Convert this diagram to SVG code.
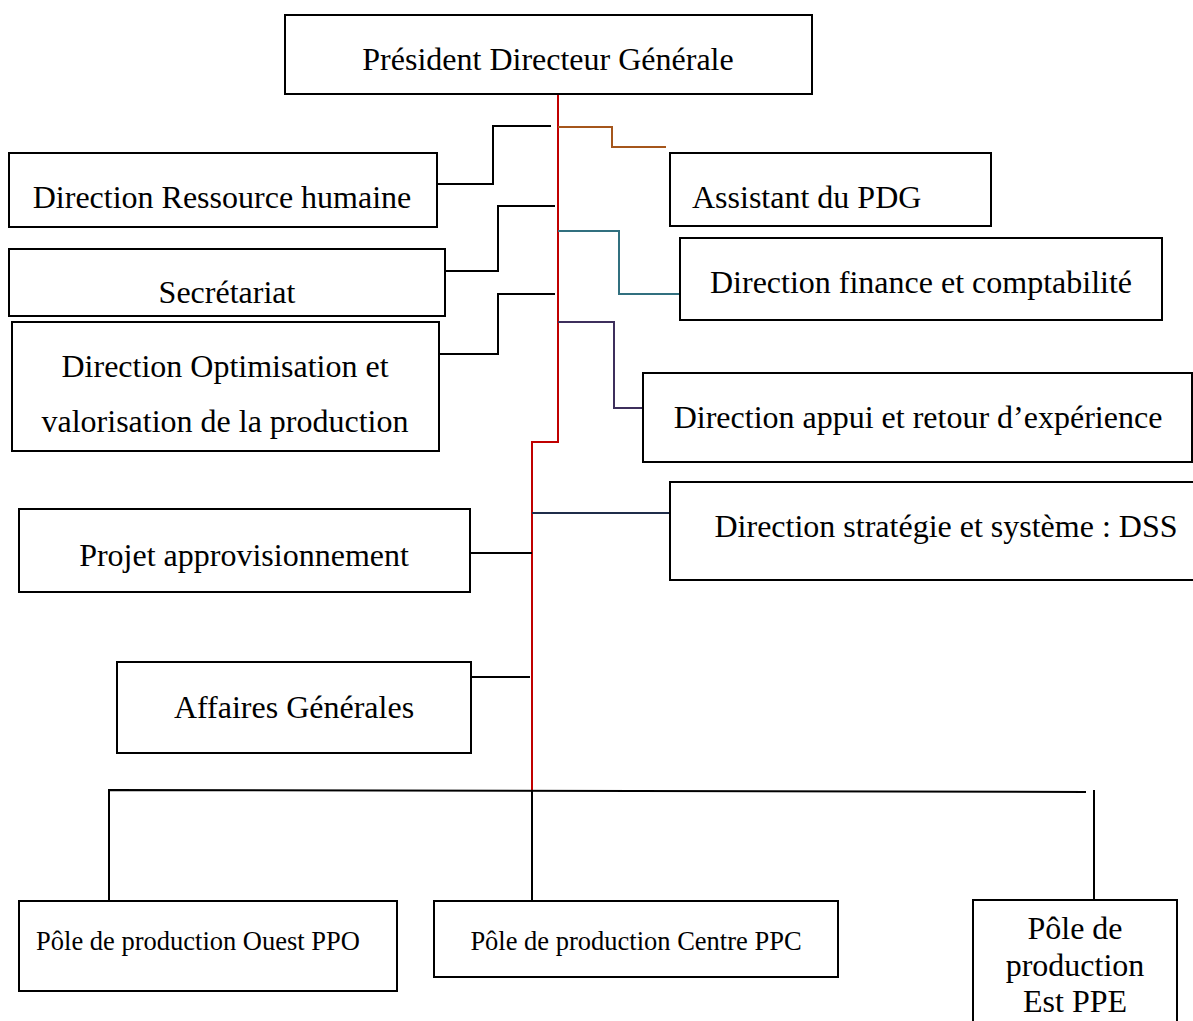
<svg xmlns="http://www.w3.org/2000/svg" width="1193" height="1021" viewBox="0 0 1193 1021">
<style>
.box{fill:#fff;stroke:#000;stroke-width:2}
.t{font-family:"Liberation Serif","Times New Roman",serif;font-size:32px;fill:#000}
.s{font-size:26.5px}
.c{fill:none;stroke-width:2}
.k{stroke:#000}
</style>
<rect width="1193" height="1021" fill="#fff"/>
<g id="connectors">
<path class="c" stroke="#c00000" d="M558 94V442H532V790"/>
<path class="c k" d="M551 126H493V184H437"/>
<path class="c" stroke="#a5561b" d="M558 127H612V147H666"/>
<path class="c k" d="M555 206H498V271H440"/>
<path class="c" stroke="#31707f" d="M558 231H619V294H680"/>
<path class="c k" d="M555 294H498V354H440"/>
<path class="c" stroke="#3d2f5c" d="M558 322H614V408H643"/>
<path class="c" stroke="#1f2d4a" d="M532 513H670"/>
<path class="c k" d="M532 553H470"/>
<path class="c k" d="M530 677H470"/>
<path class="c k" d="M109 900V790L1086 792"/>
<path class="c k" d="M532 790V900"/>
<path class="c k" d="M1094 790V905"/>
</g>
<g id="pdg"><rect class="box" x="285" y="15" width="527" height="79"/><text class="t" x="548" y="70" text-anchor="middle">Président Directeur Générale</text></g>
<g id="drh"><rect class="box" x="9" y="153" width="428" height="74"/><text class="t" x="222" y="208" text-anchor="middle">Direction Ressource humaine</text></g>
<g id="assistant"><rect class="box" x="670" y="153" width="321" height="73"/><text class="t" x="692" y="208">Assistant du PDG</text></g>
<g id="secretariat"><rect class="box" x="9" y="249" width="436" height="67"/><text class="t" x="227" y="303" text-anchor="middle">Secrétariat</text></g>
<g id="finance"><rect class="box" x="680" y="238" width="482" height="82"/><text class="t" x="921" y="293" text-anchor="middle">Direction finance et comptabilité</text></g>
<g id="optimisation"><rect class="box" x="12" y="322" width="427" height="129"/><text class="t" x="225" y="377" text-anchor="middle">Direction Optimisation et</text><text class="t" x="225" y="432" text-anchor="middle">valorisation de la production</text></g>
<g id="appui"><rect class="box" x="643" y="373" width="549" height="89"/><text class="t" x="918" y="428" text-anchor="middle">Direction appui et retour d’expérience</text></g>
<g id="dss"><rect class="box" x="670" y="482" width="540" height="98"/><text class="t" x="946" y="537" text-anchor="middle">Direction stratégie et système : DSS</text></g>
<g id="projet"><rect class="box" x="19" y="509" width="451" height="83"/><text class="t" x="244" y="566" text-anchor="middle">Projet approvisionnement</text></g>
<g id="affaires"><rect class="box" x="117" y="662" width="354" height="91"/><text class="t" x="294" y="718" text-anchor="middle">Affaires Générales</text></g>
<g id="ppo"><rect class="box" x="19" y="901" width="378" height="90"/><text class="t s" x="198" y="950" text-anchor="middle">Pôle de production Ouest PPO</text></g>
<g id="ppc"><rect class="box" x="434" y="901" width="404" height="76"/><text class="t s" x="636" y="950" text-anchor="middle">Pôle de production Centre PPC</text></g>
<g id="ppe"><rect class="box" x="973" y="900" width="204" height="140"/><text class="t" x="1075" y="939" text-anchor="middle">Pôle de</text><text class="t" x="1075" y="976" text-anchor="middle">production</text><text class="t" x="1075" y="1012" text-anchor="middle">Est PPE</text></g>
</svg>
